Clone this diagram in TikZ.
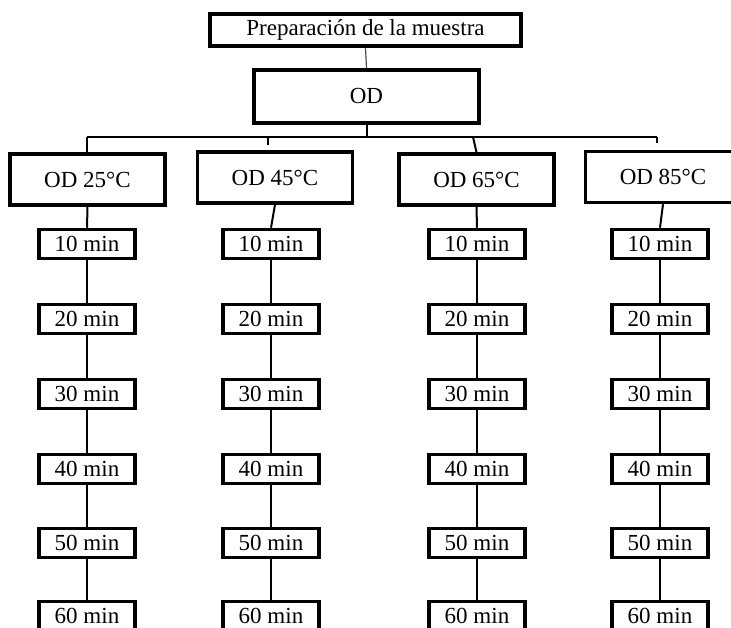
\documentclass[tikz,border=0pt]{standalone}
\usepackage{fontspec}
\setmainfont{Liberation Serif}
\begin{document}
\begin{tikzpicture}[x=1pt,y=-1pt,
  boxed/.style={draw,line width=3.5pt,inner sep=0pt,align=center,
    font=\fontsize{23}{23}\selectfont},
  minbox/.style={boxed,minimum width=96pt,minimum height=29pt},
  odbox/.style={boxed,minimum width=155pt,minimum height=51pt},
  conn/.style={line width=2pt}]
\useasboundingbox (0,0) rectangle (731,628);
\clip (0,0) rectangle (731,628);
\node[boxed,minimum width=311pt,minimum height=32pt] (prep) at (365.5,30) {Preparación de la muestra};
\node[boxed,minimum width=225pt,minimum height=53pt] (od) at (366.5,96.5) {OD};
\node[odbox] (c1) at (87.5,179.5) {OD 25°C};
\node[odbox] (c2) at (275,177.5) {OD 45°C};
\node[odbox] (c3) at (476.5,179.5) {OD 65°C};
\node[odbox] (c4) at (663,177) {OD 85°C};
\foreach \c/\x in {1/87,2/271,3/477,4/660}{
  \foreach \r/\y/\t in {1/244/10,2/319/20,3/394/30,4/469/40,5/543/50,6/616/60}{
    \node[minbox] (m\c\r) at (\x,\y) {\t\ min};
  }
  \draw[conn] (c\c.south) -- (m\c1.north);
  \foreach \a/\b in {1/2,2/3,3/4,4/5,5/6}{
    \draw[conn] (m\c\a.south) -- (m\c\b.north);
  }
}
\draw[line width=1.2pt,black!70] (prep.south) -- (od.north);
\coordinate (busL) at (87,137);
\coordinate (busR) at (657,137);
\coordinate (busM) at (366.5,137);
\coordinate (t2a) at (268,137);
\coordinate (t2b) at (268,145);
\coordinate (t3a) at (473,137);
\coordinate (t4b) at (657,143);
\draw[conn] (od.south) -- (busM);
\draw[conn] (busL) -- (busR);
\draw[conn] (busL) -- (c1.north -| busL);
\draw[conn] (t2a) -- (t2b);
\draw[conn] (t3a) -- (c3.north);
\draw[conn] (busR) -- (t4b);
\end{tikzpicture}
\end{document}
